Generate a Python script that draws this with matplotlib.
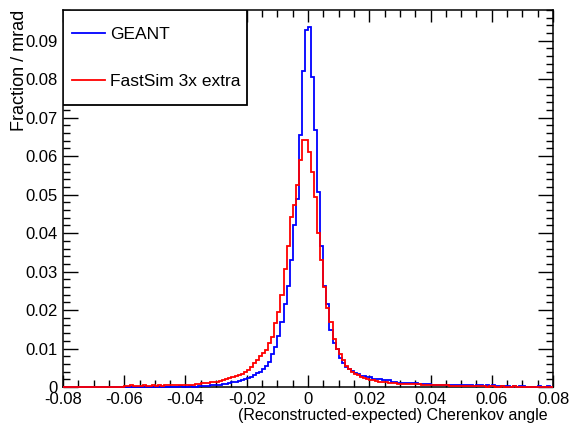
import numpy as np
import matplotlib
matplotlib.use("Agg")
import matplotlib.pyplot as plt
from matplotlib.ticker import MultipleLocator, FuncFormatter
from matplotlib.patches import Rectangle

plt.rcParams['font.family'] = ['Liberation Sans', 'DejaVu Sans']
plt.rcParams['axes.unicode_minus'] = False

# histogram binning: 160 bins of 0.001 between -0.08 and 0.08
x_lo, x_hi, n_bins = -0.08, 0.08, 160

# GEANT, fraction per bin (from left edge -0.08)
geant = [
    0, 0, 0, 0, 0, 0, 0, 0, 0, 0,
    0, 0, 0, 0, 0, 0, 0, 0, 0, 0,
    0, 0, 0, 0, 0, 0.0001, 0, 0.0001, 0.0001, 0,
    0.0001, 0.0001, 0.0001, 0, 0.0001, 0.0001, 0.0001, 0.0001, 0.0002, 0.0001,
    0.0001, 0.0002, 0.0001, 0.0001, 0.0002, 0.0002, 0.0003, 0.0003, 0.0004, 0.0005,
    0.0005, 0.0006, 0.0008, 0.0009, 0.0010, 0.0012, 0.0014, 0.0016, 0.0018, 0.0020,
    0.0023, 0.0027, 0.0032, 0.0036, 0.0040, 0.0048, 0.0055, 0.0064, 0.0085, 0.0105,
    0.0133, 0.0170, 0.0215, 0.0262, 0.0330, 0.0420, 0.0490, 0.0655, 0.0822, 0.0927,
    0.0937, 0.0805, 0.0668, 0.0507, 0.0367, 0.0262, 0.0215, 0.0149, 0.0114, 0.0100,
    0.0075, 0.0062, 0.0053, 0.0046, 0.0042, 0.0037, 0.0033, 0.0029, 0.0028, 0.0025,
    0.0025, 0.0022, 0.0020, 0.0020, 0.0018, 0.0018, 0.0018, 0.0014, 0.0014, 0.0011,
    0.0011, 0.0010, 0.0011, 0.0010, 0.0011, 0.0010, 0.0009, 0.0008, 0.0008, 0.0007,
    0.0005, 0.0005, 0.0005, 0.0005, 0.0004, 0.0004, 0.0004, 0.0004, 0.0004, 0.0004,
    0.0004, 0.0004, 0.0004, 0.0004, 0.0003, 0.0004, 0.0004, 0.0003, 0.0004, 0.0003,
    0.0004, 0.0003, 0.0002, 0.0003, 0.0003, 0.0002, 0.0001, 0.0002, 0.0001, 0.0003,
    0.0002, 0.0001, 0, 0.0001, 0, 0.0002, 0.0001, 0, 0.0002, 0.0001,
]

# FastSim 3x extra
fastsim = [
    0.0001, 0, 0, 0, 0.0001, 0, 0, 0, 0, 0.0001,
    0, 0, 0.0001, 0, 0, 0.0001, 0.0001, 0, 0.0001, 0.0001,
    0.0002, 0.0002, 0.0005, 0.0003, 0.0003, 0.0003, 0.0004, 0.0003, 0.0003, 0.0004,
    0.0003, 0.0004, 0.0003, 0.0004, 0.0004, 0.0004, 0.0005, 0.0004, 0.0005, 0.0005,
    0.0004, 0.0005, 0.0006, 0.0008, 0.0009, 0.0010, 0.0011, 0.0011, 0.0012, 0.0013,
    0.0014, 0.0015, 0.0018, 0.0022, 0.0024, 0.0027, 0.0028, 0.0030, 0.0034, 0.0038,
    0.0045, 0.0053, 0.0063, 0.0070, 0.0080, 0.0089, 0.0097, 0.0115, 0.0130, 0.0167,
    0.0196, 0.0240, 0.0306, 0.0367, 0.0441, 0.0472, 0.0524, 0.0590, 0.0642, 0.0642,
    0.0611, 0.0559, 0.0494, 0.0400, 0.0330, 0.0260, 0.0205, 0.0170, 0.0125, 0.0100,
    0.0085, 0.0070, 0.0055, 0.0046, 0.0039, 0.0033, 0.0030, 0.0027, 0.0024, 0.0021,
    0.0019, 0.0017, 0.0015, 0.0014, 0.0013, 0.0012, 0.0011, 0.0010, 0.0010, 0.0009,
    0.0008, 0.0008, 0.0008, 0.0008, 0.0008, 0.0007, 0.0007, 0.0006, 0.0006, 0.0006,
    0.0005, 0.0005, 0.0004, 0.0004, 0.0004, 0.0004, 0.0003, 0.0003, 0.0003, 0.0003,
    0.0003, 0.0003, 0.0003, 0.0003, 0.0003, 0.0003, 0.0002, 0.0002, 0.0001, 0.0002,
    0.0002, 0.0001, 0.0001, 0.0002, 0.0001, 0.0001, 0.0001, 0.0002, 0.0001, 0.0001,
    0.0001, 0, 0.0001, 0.0001, 0, 0.0001, 0, 0.0001, 0, 0.0001,
]

edges = np.linspace(x_lo, x_hi, n_bins + 1)

fig = plt.figure(figsize=(5.69, 4.30), dpi=100)
ax = fig.add_axes([63/569, 43/430, 490/569, 377/430])

ax.stairs(geant, edges, color='#0000ff', lw=1.3, zorder=3, clip_on=False, label='GEANT')
ax.stairs(fastsim, edges, color='#ff0000', lw=1.3, zorder=3.1, clip_on=False, label='FastSim 3x extra')

ax.set_xlim(x_lo, x_hi)
ax.set_ylim(0, 0.098)

ax.xaxis.set_major_locator(MultipleLocator(0.02))
ax.xaxis.set_minor_locator(MultipleLocator(0.005))
ax.yaxis.set_major_locator(MultipleLocator(0.01))
ax.yaxis.set_minor_locator(MultipleLocator(0.002))
fmt = FuncFormatter(lambda v, p: '0' if abs(v) < 1e-9 else '%.2f' % v)
ax.xaxis.set_major_formatter(fmt)
ax.yaxis.set_major_formatter(fmt)

ax.tick_params(axis='both', which='both', direction='in', top=True, right=True,
               labelsize=12, width=1.0, color='black')
ax.tick_params(axis='x', which='major', length=8.5, pad=3.5)
ax.tick_params(axis='x', which='minor', length=5)
ax.tick_params(axis='y', which='major', length=10.5, pad=4)
ax.tick_params(axis='y', which='minor', length=5)

for s in ax.spines.values():
    s.set_linewidth(1.1)

ax.set_xlabel('(Reconstructed-expected) Cherenkov angle', fontsize=11.5, loc='right')
ax.xaxis.set_label_coords(0.99, -0.056)
ax.set_ylabel('Fraction / mrad', fontsize=13, loc='top')
ax.yaxis.set_label_coords(-0.071, 1.0)

# legend box in the top-left corner
ax.add_patch(Rectangle((0, 1 - 0.252), 0.3755, 0.252, transform=ax.transAxes,
                       facecolor='white', edgecolor='black', lw=1.3, zorder=4))
leg = ax.legend(loc='upper left', bbox_to_anchor=(0.018, 0.956), frameon=False,
                fontsize=12.5, handlelength=1.9, handletextpad=0.3,
                labelspacing=1.85, borderpad=0, borderaxespad=0)
leg.set_zorder(5)

fig.savefig('out.png', dpi=100)
